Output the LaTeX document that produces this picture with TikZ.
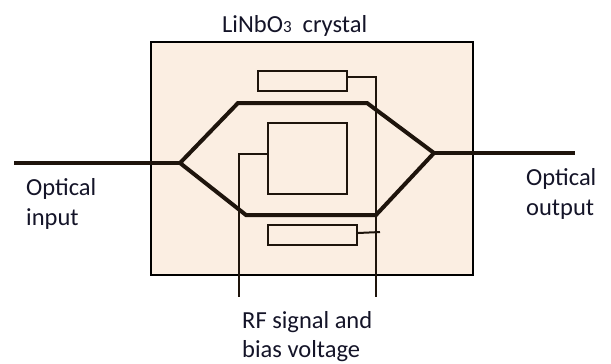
\documentclass[tikz,border=0pt]{standalone}
\usepackage{fontspec}
\setmainfont{Carlito}
\definecolor{crys}{RGB}{251,238,226}
\definecolor{wg}{RGB}{30,20,12}
\definecolor{txt}{RGB}{20,20,40}
\begin{document}
\begin{tikzpicture}[x=1pt,y=-1pt,
  crystal/.style={draw=black,line width=2pt,fill=crys,minimum width=322pt,minimum height=233pt,inner sep=0pt},
  electrode/.style={draw=wg,line width=2.4pt,fill=crys,inner sep=0pt},
  guide/.style={draw=wg,line width=4pt,line join=miter},
  wire/.style={draw=wg,line width=2pt},
  lbl/.style={text=txt,font=\fontsize{24.5}{30}\selectfont,align=left,inner sep=0pt,anchor=north west}]
\useasboundingbox (0,0) rectangle (611,364);
\node[crystal] (cr) at (312,158.5) {};
\node[electrode,minimum width=89pt,minimum height=20pt] (top) at (302.5,81) {};
\node[electrode,minimum width=79pt,minimum height=71pt] (sq) at (307.5,158.5) {};
\node[electrode,minimum width=89pt,minimum height=20pt] (bot) at (312.5,235) {};
\coordinate (in) at (14,163);
\coordinate (jL) at (180,163);
\coordinate (jR) at (434,153);
\coordinate (out) at (575,153);
\coordinate (rfL) at (239,297);
\coordinate (rfR) at (376,297);
\coordinate (bw) at (380,232);
\draw[guide] (in) -- (jL);
\draw[guide] (jR) -- (out);
\draw[guide] (jL) -- (238,103) -- (367,103) -- (jR);
\draw[guide] (jL) -- (246,215) -- (376,215) -- (jR);
\draw[wire] ([yshift=4pt]top.east) -| (rfR);
\draw[wire] ([yshift=5pt]sq.west) -| (rfL);
\draw[wire] ([yshift=2pt]bot.east) -- (bw);
\node[lbl,anchor=base west] (title) at (222,32) {LiNbO{\fontsize{17}{20}\selectfont 3}\ \ crystal};
\node[lbl,anchor=base west] (oin1) at (26,195) {Optical};
\node[lbl,anchor=base west] (oin2) at (26,225) {input};
\node[lbl,anchor=base west] (oout1) at (526,185) {Optical};
\node[lbl,anchor=base west] (oout2) at (526,215) {output};
\node[lbl,anchor=base west] (rf1) at (242,328) {RF signal and};
\node[lbl,anchor=base west] (rf2) at (242,357) {bias voltage};
\end{tikzpicture}
\end{document}
